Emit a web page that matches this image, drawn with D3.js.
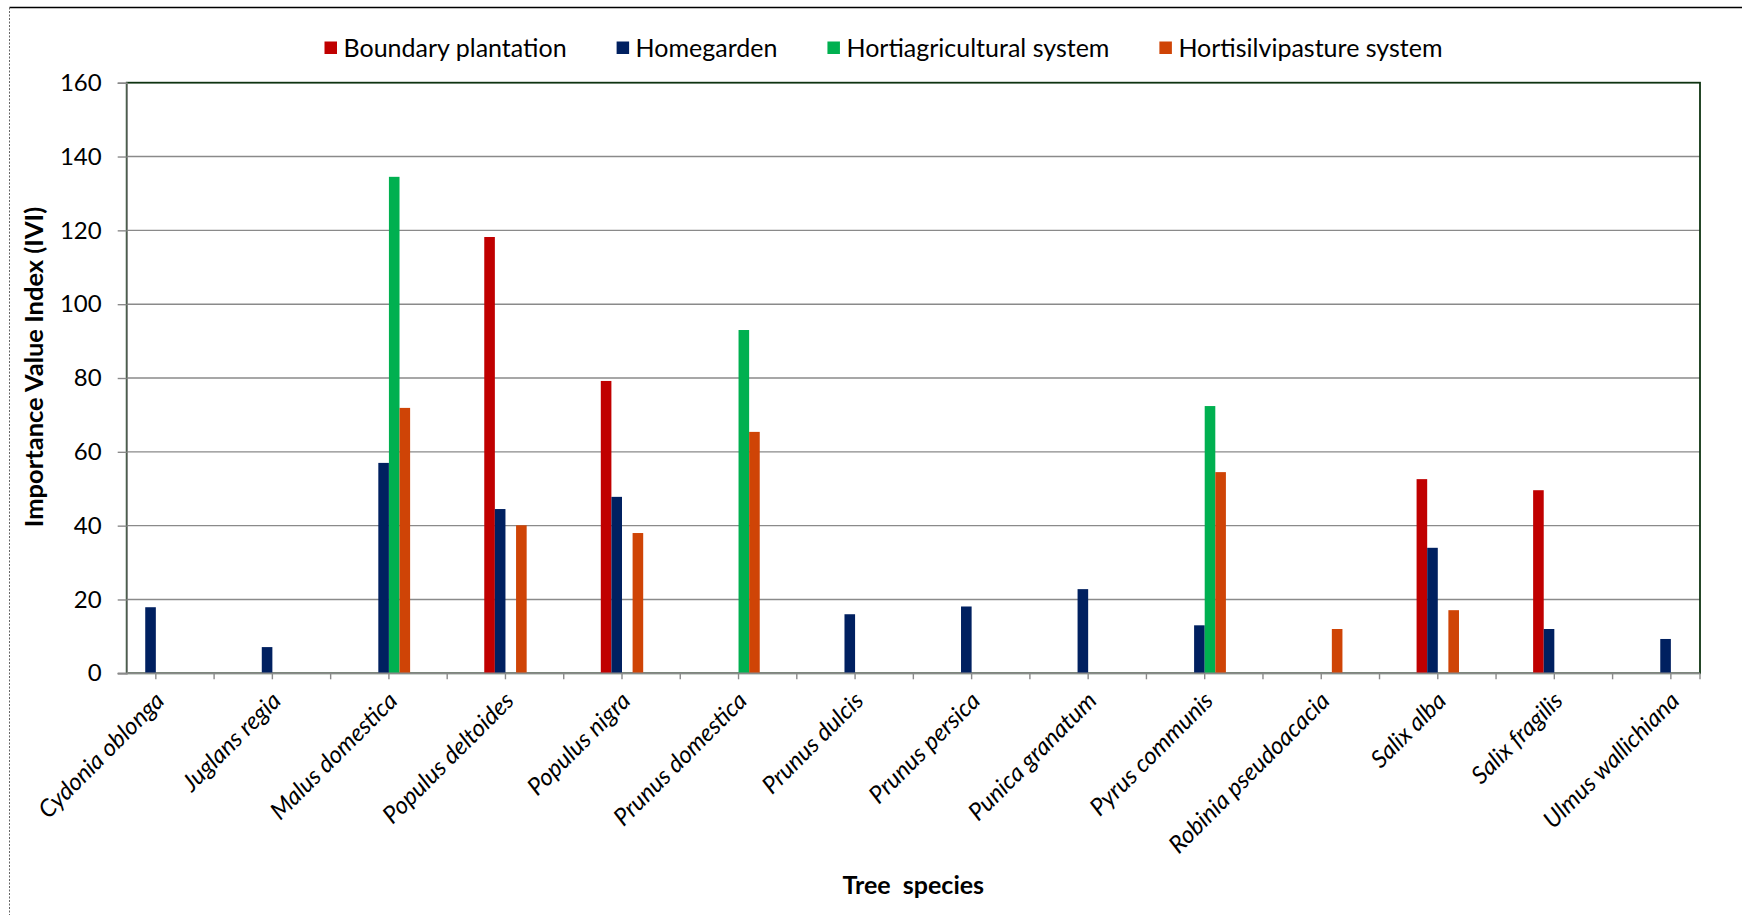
<!DOCTYPE html>
<html>
<head>
<meta charset="utf-8">
<script src="https://cdn.jsdelivr.net/npm/d3@7"></script>
<style>
  html, body { margin: 0; padding: 0; background: #ffffff; }
  svg { display: block; font-family: Lato, "Open Sans", sans-serif; }
</style>
</head>
<body>
<svg id="chart" width="1742" height="915"></svg>
<script>
// Tree species on the category axis
const species = [
  "Cydonia oblonga", "Juglans regia", "Malus domestica", "Populus deltoides",
  "Populus nigra", "Prunus domestica", "Prunus dulcis", "Prunus persica",
  "Punica granatum", "Pyrus communis", "Robinia pseudoacacia", "Salix alba",
  "Salix fragilis", "Ulmus wallichiana"
];

// Agroforestry systems (series order inside each group)
const systems = ["Boundary plantation", "Homegarden", "Hortiagricultural system", "Hortisilvipasture system"];
const systemColors = ["#C00000", "#002060", "#00B050", "#CF4406"];

// Importance Value Index per species, one array per system (null = species absent)
const boundaryPlantation = [null, null, null, 118.2, 79.2, null, null, null, null, null, null, 52.6, 49.6, null];
const homegarden = [17.9, 7.1, 57.0, 44.5, 47.8, null, 16.0, 18.1, 22.8, 13.0, null, 34.0, 12.0, 9.3];
const hortiagricultural = [null, null, 134.5, null, null, 93.0, null, null, null, 72.4, null, null, null, null];
const hortisilvipasture = [null, null, 71.9, 40.1, 38.0, 65.4, null, null, null, 54.5, 12.0, 17.1, null, null];

const yTicks = [0, 20, 40, 60, 80, 100, 120, 140, 160];

const seriesValues = [boundaryPlantation, homegarden, hortiagricultural, hortisilvipasture];

const svg = d3.select("#chart");

// Outer frame of the figure
svg.append("line").attr("x1", 9.5).attr("x2", 1742).attr("y1", 7.5).attr("y2", 7.5)
  .attr("stroke", "#000").attr("stroke-width", 1.6);
svg.append("line").attr("x1", 9.5).attr("x2", 9.5).attr("y1", 7.5).attr("y2", 915)
  .attr("stroke", "#666").attr("stroke-width", 1).attr("stroke-dasharray", "2,1.5");

// Plot area
const plot = { left: 126.7, right: 1700, top: 82.7, bottom: 673.3 };

const x = d3.scalePoint().domain(species).range([plot.left, plot.right]).padding(0.25);
const y = d3.scaleLinear().domain([0, 160]).range([plot.bottom, plot.top]);

const barW = 10.6;
const xSub = d3.scaleBand().domain(systems).range([-2 * barW, 2 * barW]).padding(0);

// Horizontal gridlines
svg.append("g").selectAll("line").data(yTicks.filter(t => t > 0 && t < 160)).join("line")
  .attr("x1", plot.left).attr("x2", plot.right)
  .attr("y1", d => y(d)).attr("y2", d => y(d))
  .attr("stroke", "#8a8a8a").attr("stroke-width", 1.4);

// Plot area border (top and right visible)
svg.append("rect")
  .attr("x", plot.left).attr("y", plot.top)
  .attr("width", plot.right - plot.left).attr("height", plot.bottom - plot.top)
  .attr("fill", "none").attr("stroke", "#0E3311").attr("stroke-width", 1.8);

// Bars
const barData = [];
species.forEach((sp, i) => {
  systems.forEach((sys, k) => {
    const v = seriesValues[k][i];
    if (v != null) barData.push({ sp, sys, v, color: systemColors[k] });
  });
});

svg.append("g").selectAll("rect").data(barData).join("rect")
  .attr("x", d => x(d.sp) + xSub(d.sys))
  .attr("width", xSub.bandwidth())
  .attr("y", d => y(d.v))
  .attr("height", d => y(0) - y(d.v))
  .attr("fill", d => d.color);

// Y axis
const yAxis = d3.axisLeft(y).tickValues(yTicks).tickSize(9).tickPadding(16).tickFormat(d3.format("d"));
const gy = svg.append("g").attr("transform", `translate(${plot.left},0)`).call(yAxis);
gy.select(".domain").attr("stroke", "#8a8a8a").attr("stroke-width", 1.4);
gy.selectAll(".tick line").attr("stroke", "#8a8a8a").attr("stroke-width", 1.4);
gy.selectAll(".tick text").attr("fill", "#000").attr("font-size", 24)
  .attr("font-family", "Lato, 'Open Sans', sans-serif");

// X axis: ticks at every species and midway between them
const step = x.step();
const xTickPos = [];
species.forEach((sp, i) => {
  xTickPos.push(x(sp));
  if (i < species.length - 1) xTickPos.push(x(sp) + step / 2);
});
xTickPos.push(plot.right);

const gx = svg.append("g");
gx.append("line").attr("x1", plot.left - 9).attr("x2", plot.right)
  .attr("y1", plot.bottom).attr("y2", plot.bottom)
  .attr("stroke", "#8a8a8a").attr("stroke-width", 1.4);
gx.selectAll("line.tick").data(xTickPos).join("line").attr("class", "tick")
  .attr("x1", d => d).attr("x2", d => d)
  .attr("y1", plot.bottom).attr("y2", plot.bottom + 6)
  .attr("stroke", "#8a8a8a").attr("stroke-width", 1.4);

// Species labels, rotated
gx.selectAll("text").data(species).join("text")
  .attr("transform", d => `translate(${x(d) + 4},${plot.bottom + 23}) rotate(-45)`)
  .attr("text-anchor", "end")
  .attr("dy", "0.35em")
  .attr("font-style", "italic")
  .attr("font-size", 24)
  .attr("fill", "#000")
  .text(d => d);

// Axis titles
svg.append("text")
  .attr("transform", `translate(43,${(plot.top + plot.bottom) / 2 - 11}) rotate(-90)`)
  .attr("text-anchor", "middle")
  .attr("font-weight", "bold")
  .attr("font-size", 25.5)
  .attr("fill", "#000")
  .text("Importance Value Index (IVI)");

svg.append("text")
  .attr("x", (plot.left + plot.right) / 2)
  .attr("y", 894)
  .attr("text-anchor", "middle")
  .attr("font-weight", "bold")
  .attr("font-size", 25)
  .attr("fill", "#000")
  .attr("xml:space", "preserve")
  .style("white-space", "pre")
  .text("Tree  species");

// Legend
const legend = svg.append("g");
let lx = 324.5;
systems.forEach((s, k) => {
  legend.append("rect").attr("x", lx).attr("y", 41.5).attr("width", 12.5).attr("height", 12.5)
    .attr("fill", systemColors[k]);
  const t = legend.append("text").attr("x", lx + 19).attr("y", 48).attr("dy", "0.35em")
    .attr("font-size", 25).attr("fill", "#000").text(s);
  lx += 19 + t.node().getComputedTextLength() + 50;
});
</script>
</body>
</html>
